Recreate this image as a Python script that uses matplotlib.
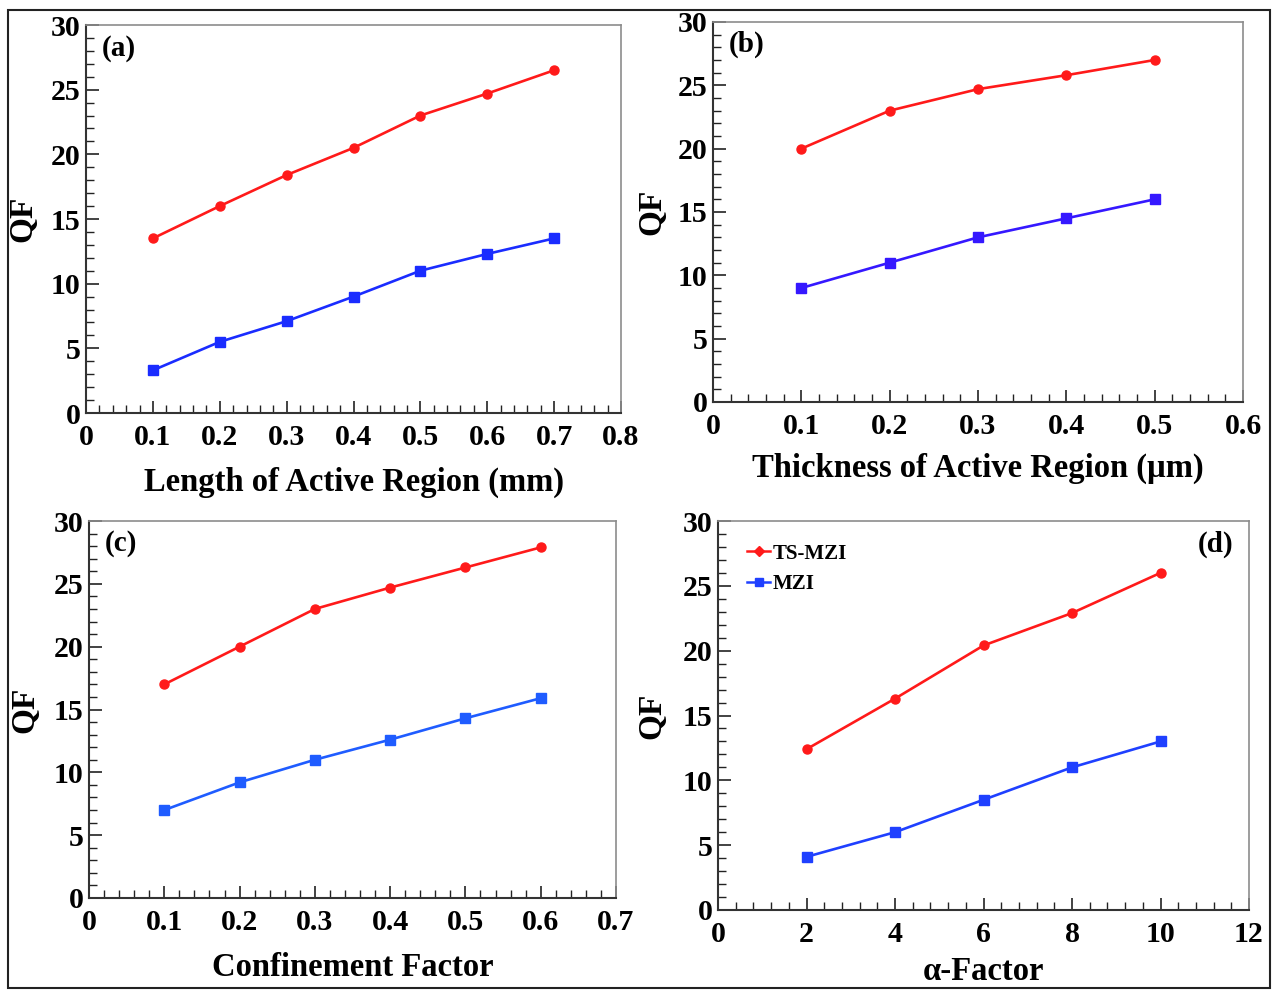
import matplotlib.pyplot as plt
from matplotlib.patches import Rectangle
from matplotlib.ticker import MultipleLocator
from matplotlib.lines import Line2D

plt.rcParams['font.family'] = ['Liberation Serif', 'DejaVu Serif']
plt.rcParams['font.weight'] = 'bold'

# QF versus device parameters, TS-MZI (red) and plain MZI (blue)
length_mm = [0.1, 0.2, 0.3, 0.4, 0.5, 0.6, 0.7]
length_ts = [13.5, 16.0, 18.4, 20.5, 23.0, 24.7, 26.5]
length_mzi = [3.3, 5.5, 7.1, 9.0, 11.0, 12.3, 13.5]

thick_um = [0.1, 0.2, 0.3, 0.4, 0.5]
thick_ts = [20.0, 23.0, 24.7, 25.8, 27.0]
thick_mzi = [9.0, 11.0, 13.0, 14.5, 16.0]

confinement = [0.1, 0.2, 0.3, 0.4, 0.5, 0.6]
conf_ts = [17.0, 20.0, 23.0, 24.7, 26.3, 27.9]
conf_mzi = [7.0, 9.2, 11.0, 12.6, 14.3, 15.9]

alpha = [2, 4, 6, 8, 10]
alpha_ts = [12.4, 16.3, 20.4, 22.9, 26.0]
alpha_mzi = [4.1, 6.0, 8.5, 11.0, 13.0]

W, H = 1277, 990
fig = plt.figure(figsize=(W / 100, H / 100), dpi=100)

def px_axes(left, right, top, bottom):
    return fig.add_axes([left / W, 1 - bottom / H, (right - left) / W, (bottom - top) / H])

RED = '#ff1a1a'

def panel(ax, x, ts, mzi, blue, xmax, xmajor, xminor, xlabel, tag, ylab_off, xlab_off, tag_pos=(0.03, 0.94), tag_ha='left'):
    ax.plot(x, ts, color=RED, lw=1.9, marker='o', ms=6.5, label='TS-MZI')
    ax.plot(x, mzi, color=blue, lw=1.9, marker='s', ms=6.5, label='MZI')
    ax.set_xlim(0, xmax)
    ax.set_ylim(0, 30)
    ax.xaxis.set_major_locator(MultipleLocator(xmajor))
    ax.xaxis.set_minor_locator(MultipleLocator(xminor))
    ax.yaxis.set_major_locator(MultipleLocator(5))
    ax.yaxis.set_minor_locator(MultipleLocator(1))
    ax.tick_params(which='both', direction='in', top=False, right=False,
                   colors='#222222', labelcolor='black', labelsize=21.5)
    ax.tick_params(which='major', length=9, width=1.2)
    ax.tick_params(which='minor', length=6, width=1.0)
    ax.tick_params(axis='x', which='major', pad=8)
    ax.tick_params(axis='y', which='major', pad=4)
    ax.xaxis.set_major_formatter(lambda v, p: '0' if abs(v) < 1e-9 else f'{v:g}')
    for lab in ax.get_xticklabels() + ax.get_yticklabels():
        lab.set_fontweight('bold')
    for s in ('left', 'bottom'):
        ax.spines[s].set_color('#333333')
        ax.spines[s].set_linewidth(1.5)
    for s in ('top', 'right'):
        ax.spines[s].set_color('#8c8c8c')
        ax.spines[s].set_linewidth(1.2)
    h = ax.get_position().height * H
    w = ax.get_position().width * W
    ax.set_xlabel(xlabel, fontsize=23.5, fontweight='bold')
    ax.xaxis.set_label_coords(0.5, -xlab_off / h)
    ax.xaxis.label.set_va('center')
    ax.set_ylabel('QF', fontsize=24, fontweight='bold')
    ax.yaxis.set_label_coords(-ylab_off / w, 0.5)
    ax.yaxis.label.set_va('center')
    ax.text(tag_pos[0], tag_pos[1], tag, transform=ax.transAxes, fontsize=21,
            fontweight='bold', ha=tag_ha, va='center')

ax_a = px_axes(86, 621, 25, 413)
panel(ax_a, length_mm, length_ts, length_mzi, '#1a2cff', 0.8, 0.1, 0.02,
      'Length of Active Region (mm)', '(a)', 63, 69)

ax_b = px_axes(713, 1243, 22, 402)
panel(ax_b, thick_um, thick_ts, thick_mzi, '#3518ff', 0.6, 0.1, 0.02,
      'Thickness of Active Region (\u00b5m)', '(b)', 61, 66)

ax_c = px_axes(89, 616, 521, 898)
panel(ax_c, confinement, conf_ts, conf_mzi, '#1f5cff', 0.7, 0.1, 0.02,
      'Confinement Factor', '(c)', 64, 70)

ax_d = px_axes(718, 1249, 521, 910)
panel(ax_d, alpha, alpha_ts, alpha_mzi, '#1f40ff', 12, 2, 0.4,
      '\u03b1-Factor', '(d)', 66, 62, tag_pos=(0.97, 0.94), tag_ha='right')

handles = [Line2D([], [], color=RED, lw=1.8, marker='D', ms=5),
           Line2D([], [], color='#1f40ff', lw=1.8, marker='s', ms=6)]
ax_d.legend(handles, ['TS-MZI', 'MZI'], loc='upper left', bbox_to_anchor=(0.02, 0.99),
            frameon=False, handlelength=1.1, handletextpad=0.1, labelspacing=0.5,
            prop={'family': 'Liberation Serif', 'weight': 'bold', 'size': 15})

fig.patches.append(Rectangle((8 / W, 1 - 988 / H), 1262 / W, 978 / H, transform=fig.transFigure,
                             fill=False, edgecolor='#222222', lw=1.5))

fig.savefig('out.png', dpi=100)
